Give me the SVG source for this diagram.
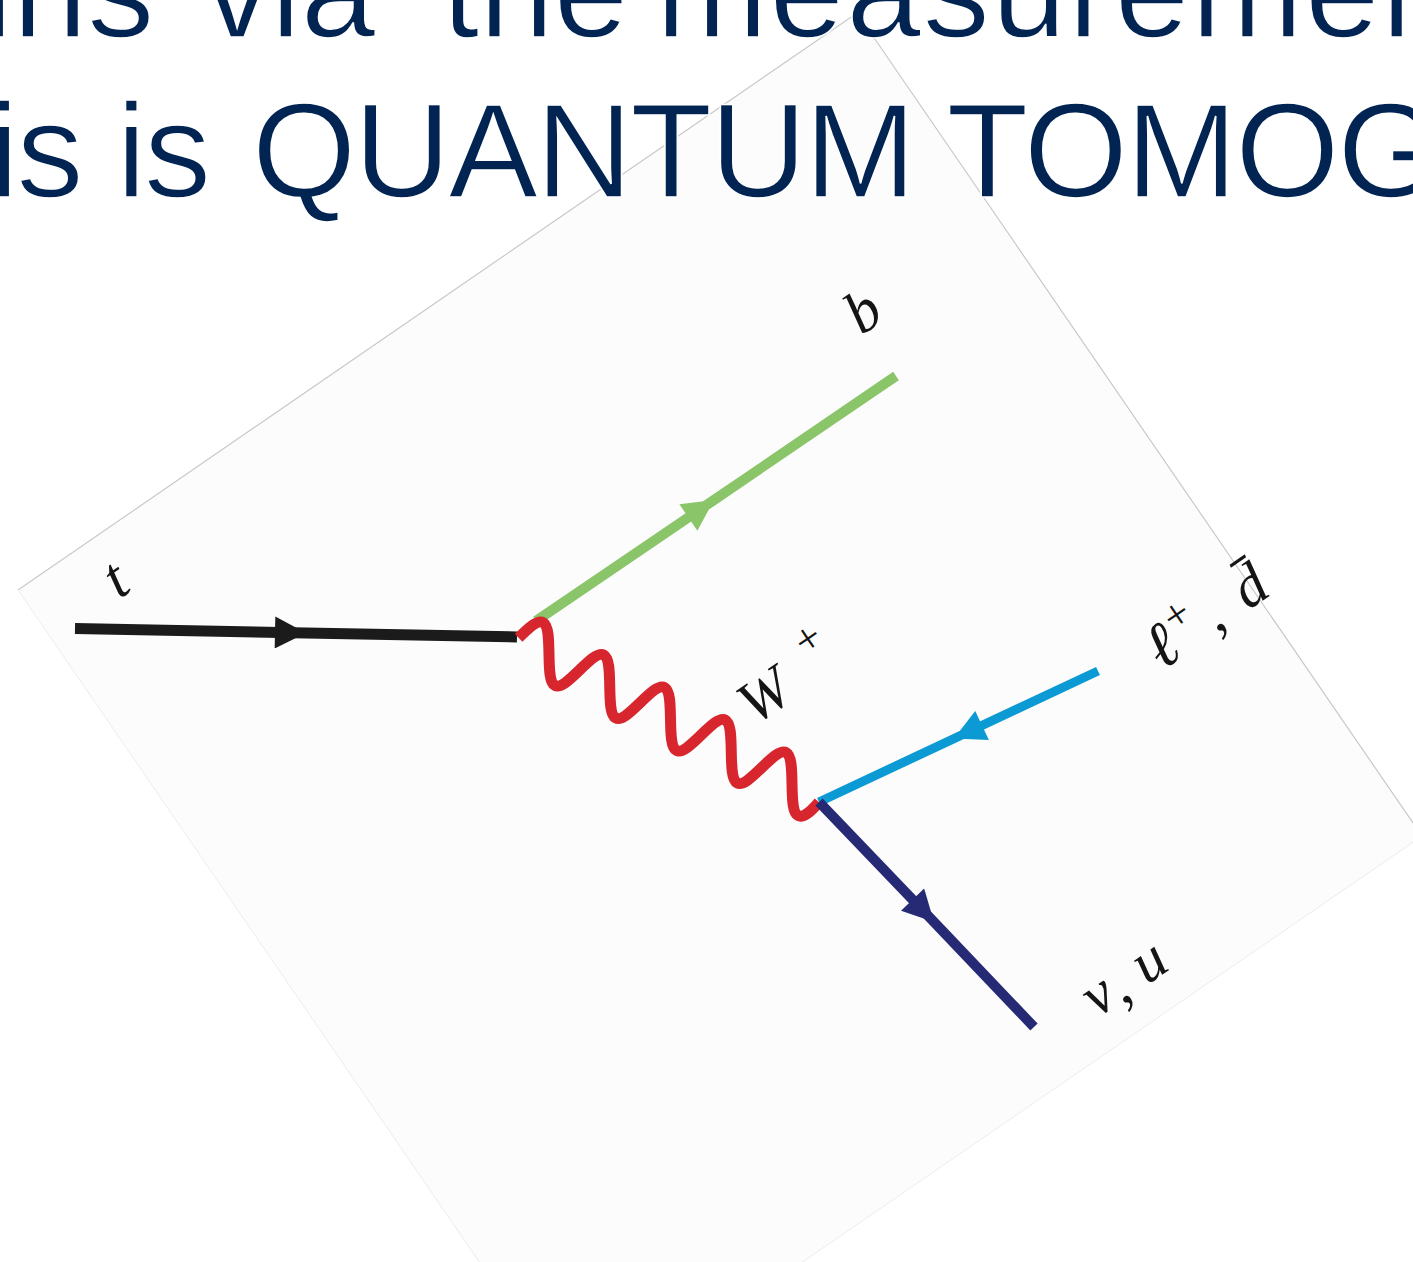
<svg xmlns="http://www.w3.org/2000/svg" width="1413" height="1262" viewBox="0 0 1413 1262">
<style>
.slide{font-family:"Liberation Sans",Arial,sans-serif;font-size:134px;fill:#012453;stroke:#ffffff;stroke-width:1.6px}
.lbl{font-family:"Liberation Serif","DejaVu Serif",serif;font-style:italic;font-size:60px;fill:#151515;text-anchor:middle}
.sup{font-style:normal;font-size:44px}
.edge-top{stroke:#c9c9c9;stroke-width:1.2;fill:none}
.edge-bot{stroke:#ececec;stroke-width:1;fill:none}
</style>
<defs>
<marker id="arrK" markerUnits="userSpaceOnUse" markerWidth="32" markerHeight="32" viewBox="0 0 31 32" refX="31" refY="16" orient="auto"><path d="M0,0 L31,16 L0,32 Z" fill="#1b1b1b"/></marker>
<marker id="arrG" markerUnits="userSpaceOnUse" markerWidth="32" markerHeight="32" viewBox="0 0 31 32" refX="31" refY="16" orient="auto"><path d="M0,0 L31,16 L0,32 Z" fill="#8bc56a"/></marker>
<marker id="arrC" markerUnits="userSpaceOnUse" markerWidth="32" markerHeight="32" viewBox="0 0 31 32" refX="31" refY="16" orient="auto"><path d="M0,0 L31,16 L0,32 Z" fill="#0b9ad3"/></marker>
<marker id="arrN" markerUnits="userSpaceOnUse" markerWidth="32" markerHeight="32" viewBox="0 0 31 32" refX="31" refY="16" orient="auto"><path d="M0,0 L31,16 L0,32 Z" fill="#262a74"/></marker>
</defs>
<rect width="1413" height="1262" fill="#ffffff"/>
<g id="panel">
<polygon points="18,590 857,13 1422,836 583,1413" fill="#fcfcfc"/>
<polyline class="edge-top" points="18,590 857,13 1422,836"/>
<polyline class="edge-bot" points="18,590 583,1413 1422,836"/>
</g>
<g id="slide-text">
<text class="slide" y="37"><tspan x="-17">ins</tspan><tspan x="204">via</tspan><tspan x="442">the</tspan><tspan x="656" letter-spacing="2">measuremen</tspan></text>
<text class="slide" y="197" letter-spacing="-2.2"><tspan x="-11">is is</tspan><tspan x="252">QUANTUM TOMOG</tspan></text>
</g>
<g id="connectors" fill="none" stroke-linecap="butt">
<path id="t-line" d="M75,628.5 L306,633 L517,637" stroke="#1b1b1b" stroke-width="11" marker-mid="url(#arrK)"/>
<path id="b-line" d="M536,621 L714,500 L896,376" stroke="#8bc56a" stroke-width="10" marker-mid="url(#arrG)"/>
<path id="w-line" transform="matrix(15.19 8.125 -9.19 23.37 518.6 637.75)" vector-effect="non-scaling-stroke" stroke="#d7262e" stroke-width="11" stroke-linejoin="round" d="M0,0 C0.3261,-0.5123 0.6381,-1 1,-1 S1.6739,-0.5123 2,0 S2.6381,1 3,1 S3.6739,0.5123 4,0 S4.6381,-1 5,-1 S5.6739,-0.5123 6,0 S6.6381,1 7,1 S7.6739,0.5123 8,0 S8.6381,-1 9,-1 S9.6739,-0.5123 10,0 S10.6381,1 11,1 S11.6739,0.5123 12,0 S12.6381,-1 13,-1 S13.6739,-0.5123 14,0 S14.6381,1 15,1 S15.6739,0.5123 16,0 S16.6381,-1 17,-1 S17.6739,-0.5123 18,0 S18.6381,1 19,1 C19.3619,1 19.62,0.6 19.85,0.13"/>
<path id="lepton-line" d="M1098,671 L954,738.6 L819,802" stroke="#0b9ad3" stroke-width="9" marker-mid="url(#arrC)"/>
<path id="nu-line" d="M819,802 L934,922 L1034,1027" stroke="#262a74" stroke-width="10" marker-mid="url(#arrN)"/>
</g>
<g id="label-t" transform="translate(116,580) rotate(-34.5)"><text class="lbl" x="0" y="18">t</text></g>
<g id="label-b" transform="translate(862,310) rotate(-34.5)"><text class="lbl" x="0" y="21">b</text></g>
<g id="label-W" transform="translate(764,695) rotate(-34.5)"><text class="lbl"><tspan x="0" y="20">W</tspan><tspan class="sup" x="68" y="-7">+</tspan></text></g>
<g id="label-lepton" transform="translate(1161,645) rotate(-34.5)"><text class="lbl"><tspan x="0" y="22" font-size="64">ℓ</tspan><tspan class="sup" x="30" y="-1.6">+</tspan><tspan x="67" y="22">, </tspan><tspan x="106" y="21">d̄</tspan></text></g>
<g id="label-nu" transform="translate(1100,998) rotate(-34.5)"><text class="lbl"><tspan x="0" y="15">ν</tspan><tspan x="29" y="19">, </tspan><tspan x="61" y="16">u</tspan></text></g>
</svg>
